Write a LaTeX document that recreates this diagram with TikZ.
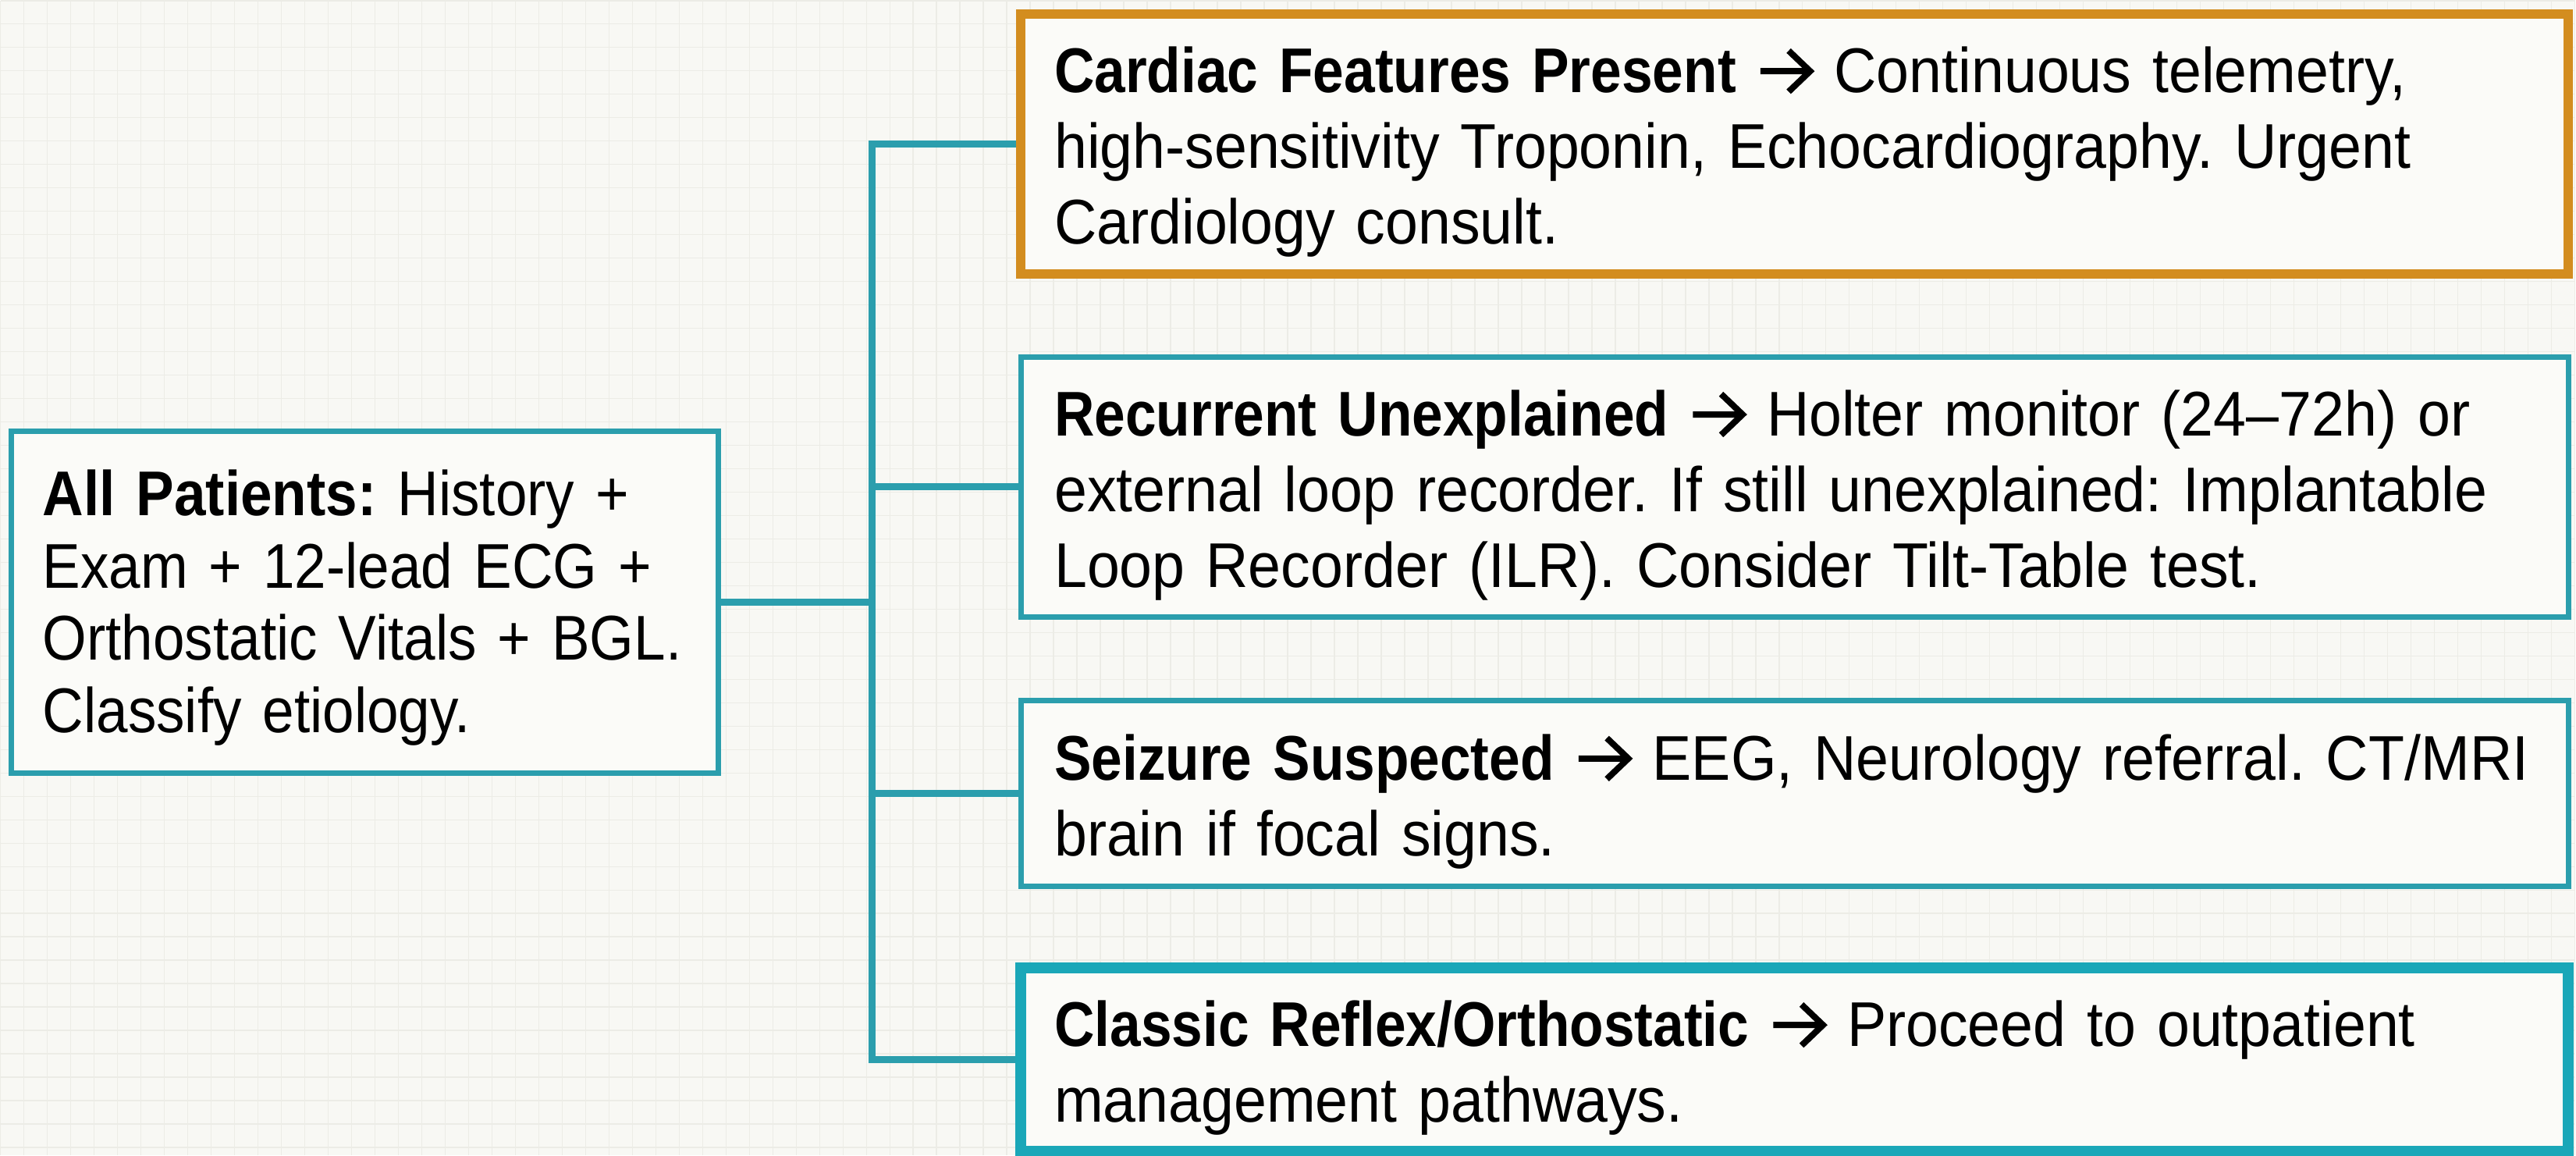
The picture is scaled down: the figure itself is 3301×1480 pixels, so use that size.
\documentclass[tikz,border=0pt]{standalone}
\usepackage{fontspec}
\setmainfont{Liberation Sans}[FakeStretch=0.93,BoldFeatures={FakeStretch=0.88}]
\newfontfamily\srcfont{Liberation Sans}[FakeStretch=0.9]
\frenchspacing
\definecolor{paper}{HTML}{F8F8F4}
\definecolor{gridc}{HTML}{ECECE6}
\definecolor{boxfill}{HTML}{FBFBF8}
\definecolor{tealline}{HTML}{2B9EAD}
\definecolor{tealbright}{HTML}{1AA7B8}
\definecolor{amber}{HTML}{D38D1F}
% bold chevron arrow used inside the box texts
\newcommand{\stepto}{\tikz[baseline=0pt,x=1pt,y=1pt]
  \draw[draw=black,fill=none,line width=3.2pt,line cap=butt,line join=miter]
    (0,11) -- (25,11) (14.5,21.5) -- (25.5,11) -- (14.5,0.5);}
% struts fixing the height of the first row and the depth of the last row
\newcommand{\toprow}{\rule{0pt}{33.2pt}}
\newcommand{\srctoprow}{\rule{0pt}{30.4pt}}
\newcommand{\lastrow}{\rule[-8pt]{0pt}{8pt}}
\tikzset{
  gridline/.style={draw=gridc, line width=0.6pt},
  link/.style={draw=tealline, line width=3.6pt, line join=miter},
  card/.style={draw=tealline, line width=2.8pt, fill=boxfill, align=left,
    inner xsep=16.8pt, inner ysep=0pt, text width=759.2pt,
    minimum width=793.6pt,
    font=\fontsize{32.4pt}{38.8pt}\selectfont},
  srccard/.style={card, inner xsep=16pt, text width=330.4pt,
    minimum width=362.4pt, minimum height=175.2pt,
    font=\srcfont\fontsize{32.4pt}{37.1pt}\selectfont},
  urgent/.style={draw=amber, line width=4.8pt},
  routine/.style={draw=tealbright, line width=5.6pt}
}
\begin{document}
\begin{tikzpicture}[x=0.4pt, y=-0.4pt]
  % canvas and faint grid paper
  \fill[paper] (0,0) rectangle (3301,1480);
  \foreach \gx in {0,30,...,3300} \draw[gridline] (\gx,0) -- (\gx,1480);
  \foreach \gy in {0,30,...,1470} \draw[gridline] (0,\gy) -- (3301,\gy);
  \useasboundingbox (0,0) rectangle (3301,1480);

  % initial assessment
  \node[srccard] (src) at (467,771)
    {\mbox{\srctoprow\textbf{All Patients:} History +}\\
     \mbox{Exam + 12-lead ECG +}\\
     \mbox{Orthostatic Vitals + BGL.}\\
     \mbox{Classify etiology.\lastrow}};

  % branch outcomes
  \node[card, urgent, minimum height=133.2pt] (b1) at (2300,183.5)
    {\mbox{\toprow\textbf{Cardiac Features Present} \stepto{} Continuous telemetry,}\\
     \mbox{high-sensitivity Troponin, Echocardiography. Urgent}\\
     \mbox{Cardiology consult.\lastrow}};
  \node[card, minimum height=133.2pt] (b2) at (2300,623.5)
    {\mbox{\toprow\textbf{Recurrent Unexplained} \stepto{} Holter monitor (24–72h) or}\\
     \mbox{external loop recorder. If still unexplained: Implantable}\\
     \mbox{Loop Recorder (ILR). Consider Tilt-Table test.\lastrow}};
  \node[card, minimum height=95.2pt] (b3) at (2300,1016)
    {\mbox{\toprow\textbf{Seizure Suspected} \stepto{} EEG, Neurology referral. CT/MRI}\\
     \mbox{brain if focal signs.\lastrow}};
  \node[card, routine, minimum height=94pt] (b4) at (2300,1357.5)
    {\mbox{\toprow\textbf{Classic Reflex/Orthostatic} \stepto{} Proceed to outpatient}\\
     \mbox{management pathways.\lastrow}};

  % branching connector
  \coordinate (j) at (1117,771);
  \draw[link] (src.east) -- (j);
  \draw[link] (b1.west) -| (j) |- (b4.west);
  \draw[link] (j |- b2.west) -- (b2.west);
  \draw[link] (j |- b3.west) -- (b3.west);
\end{tikzpicture}
\end{document}
